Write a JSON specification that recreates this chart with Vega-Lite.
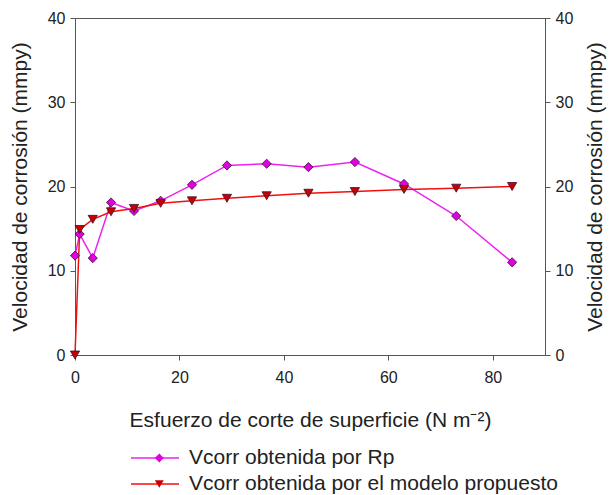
{
  "$schema": "https://vega.github.io/schema/vega-lite/v6.json",
  "width": 470,
  "height": 337,
  "autosize": {"type": "none"},
  "padding": {"left": 75, "top": 18, "right": 67, "bottom": 140},
  "background": "white",
  "config": {
    "font": "Liberation Sans",
    "view": {"stroke": "#555555", "strokeWidth": 1},
    "axis": {
      "grid": false,
      "domainColor": "#555555",
      "tickColor": "#555555",
      "labelColor": "#222222",
      "titleColor": "#222222",
      "labelFontSize": 16,
      "titleFontSize": 21,
      "titleFontWeight": "normal",
      "tickSize": 5,
      "labelFlush": false,
      "labelFont": "Liberation Sans",
      "titleFont": "Liberation Sans"
    }
  },
  "data": {
    "values": [
      {"x": 0, "y": 11.8, "serie": "Vcorr obtenida por Rp"},
      {"x": 0.9, "y": 14.35, "serie": "Vcorr obtenida por Rp"},
      {"x": 3.4, "y": 11.5, "serie": "Vcorr obtenida por Rp"},
      {"x": 6.9, "y": 18.1, "serie": "Vcorr obtenida por Rp"},
      {"x": 11.3, "y": 17.1, "serie": "Vcorr obtenida por Rp"},
      {"x": 16.4, "y": 18.3, "serie": "Vcorr obtenida por Rp"},
      {"x": 22.4, "y": 20.2, "serie": "Vcorr obtenida por Rp"},
      {"x": 29.1, "y": 22.5, "serie": "Vcorr obtenida por Rp"},
      {"x": 36.7, "y": 22.7, "serie": "Vcorr obtenida por Rp"},
      {"x": 44.7, "y": 22.3, "serie": "Vcorr obtenida por Rp"},
      {"x": 53.6, "y": 22.9, "serie": "Vcorr obtenida por Rp"},
      {"x": 63.0, "y": 20.3, "serie": "Vcorr obtenida por Rp"},
      {"x": 73.0, "y": 16.5, "serie": "Vcorr obtenida por Rp"},
      {"x": 83.7, "y": 11.0, "serie": "Vcorr obtenida por Rp"},
      {"x": 0, "y": 0, "serie": "Vcorr obtenida por el modelo propuesto"},
      {"x": 0.9, "y": 14.9, "serie": "Vcorr obtenida por el modelo propuesto"},
      {"x": 3.4, "y": 16.1, "serie": "Vcorr obtenida por el modelo propuesto"},
      {"x": 6.9, "y": 17.0, "serie": "Vcorr obtenida por el modelo propuesto"},
      {"x": 11.3, "y": 17.4, "serie": "Vcorr obtenida por el modelo propuesto"},
      {"x": 16.4, "y": 18.0, "serie": "Vcorr obtenida por el modelo propuesto"},
      {"x": 22.4, "y": 18.3, "serie": "Vcorr obtenida por el modelo propuesto"},
      {"x": 29.1, "y": 18.6, "serie": "Vcorr obtenida por el modelo propuesto"},
      {"x": 36.7, "y": 18.9, "serie": "Vcorr obtenida por el modelo propuesto"},
      {"x": 44.7, "y": 19.2, "serie": "Vcorr obtenida por el modelo propuesto"},
      {"x": 53.6, "y": 19.4, "serie": "Vcorr obtenida por el modelo propuesto"},
      {"x": 63.0, "y": 19.65, "serie": "Vcorr obtenida por el modelo propuesto"},
      {"x": 73.0, "y": 19.8, "serie": "Vcorr obtenida por el modelo propuesto"},
      {"x": 83.7, "y": 20.0, "serie": "Vcorr obtenida por el modelo propuesto"}
    ]
  },
  "encoding": {
    "x": {
      "field": "x",
      "type": "quantitative",
      "scale": {"domain": [0, 90], "nice": false, "zero": false},
      "axis": {
        "title": "Esfuerzo de corte de superficie (N m⁻²)",
        "values": [0, 20, 40, 60, 80],
        "labelPadding": 9,
        "titlePadding": 24
      }
    }
  },
  "layer": [
    {
      "transform": [{"calculate": "datum.serie", "as": "serie_linea"}],
      "mark": {"type": "line", "strokeWidth": 1.5},
      "encoding": {
        "y": {
          "field": "y",
          "type": "quantitative",
          "scale": {"domain": [0, 40], "nice": false},
          "axis": {
            "orient": "left",
            "title": "Velocidad de corrosión (mmpy)",
            "values": [0, 10, 20, 30, 40],
            "labelPadding": 5,
            "titlePadding": 17
          }
        },
        "stroke": {
          "field": "serie_linea",
          "type": "nominal",
          "scale": {"range": ["#ee22ee", "#f01010"]},
          "legend": {
            "title": null,
            "orient": "none",
            "legendX": 55,
            "legendY": 427,
            "symbolType": "stroke",
            "symbolSize": 2304,
            "symbolStrokeWidth": 1.5,
            "clipHeight": 26,
            "rowPadding": 0,
            "padding": 0,
            "labelFontSize": 21,
            "labelOffset": 9,
            "labelColor": "#222222",
            "labelLimit": 500,
            "zindex": 0
          }
        }
      }
    },
    {
      "mark": {"type": "point", "filled": true, "size": 85, "stroke": "#3a1030", "strokeWidth": 0.8, "opacity": 1},
      "encoding": {
        "y": {
          "field": "y",
          "type": "quantitative",
          "scale": {"domain": [0, 40], "nice": false},
          "axis": {
            "orient": "right",
            "title": "Velocidad de corrosión (mmpy)",
            "values": [0, 10, 20, 30, 40],
            "labelPadding": 5,
            "titlePadding": 12,
            "titleAngle": -90,
            "titleBaseline": "top"
          }
        },
        "fill": {
          "field": "serie",
          "type": "nominal",
          "scale": {"range": ["#e000e0", "#c80000"]},
          "legend": {
            "title": null,
            "orient": "none",
            "legendX": 55,
            "legendY": 427,
            "symbolSize": 80,
            "symbolOffset": 18.8,
            "clipHeight": 26,
            "rowPadding": 0,
            "padding": 0,
            "labelFontSize": 21,
            "labelExpr": "''",
            "symbolStrokeColor": "#3a1030",
            "symbolStrokeWidth": 0.8,
            "zindex": 1
          }
        },
        "shape": {
          "field": "serie",
          "type": "nominal",
          "scale": {"range": ["diamond", "triangle-down"]},
          "legend": {
            "title": null,
            "orient": "none",
            "legendX": 55,
            "legendY": 427,
            "symbolSize": 80,
            "symbolOffset": 18.8,
            "clipHeight": 26,
            "rowPadding": 0,
            "padding": 0,
            "labelFontSize": 21,
            "labelExpr": "''",
            "symbolStrokeColor": "#3a1030",
            "symbolStrokeWidth": 0.8,
            "zindex": 1
          }
        }
      }
    }
  ],
  "resolve": {"axis": {"y": "independent"}}
}
